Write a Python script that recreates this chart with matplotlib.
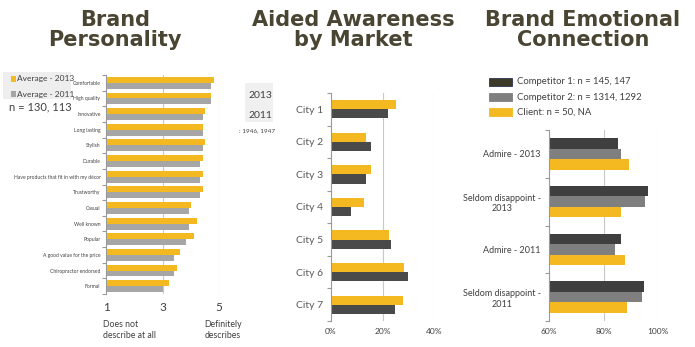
import numpy as np
import matplotlib.pyplot as plt
from matplotlib.patches import Rectangle

plt.rcParams['font.family'] = ['Lato', 'DejaVu Sans']

# Brand personality (1 = does not describe at all, 5 = definitely describes)
traits = ["Comfortable", "High quality", "Innovative", "Long lasting", "Stylish",
          "Durable", "Have products that fit in with my décor", "Trustworthy",
          "Casual", "Well known", "Popular", "A good value for the price",
          "Chiropractor endorsed", "Formal"]
avg_2013 = [4.81, 4.72, 4.50, 4.42, 4.50, 4.42, 4.42, 4.42, 4.00, 4.22, 4.11, 3.62, 3.51, 3.22]
avg_2011 = [4.72, 4.72, 4.42, 4.42, 4.42, 4.33, 4.33, 4.33, 3.93, 3.93, 3.82, 3.41, 3.41, 3.00]

# Aided awareness by market
cities = ["City 1", "City 2", "City 3", "City 4", "City 5", "City 6", "City 7"]
aware_2013 = [0.251, 0.136, 0.156, 0.129, 0.226, 0.282, 0.279]
aware_2011 = [0.223, 0.157, 0.134, 0.079, 0.234, 0.299, 0.249]

# Brand emotional connection
emo_cats = ["Admire - 2013", "Seldom disappoint -\n2013", "Admire - 2011", "Seldom disappoint -\n2011"]
comp1 = [0.855, 0.962, 0.866, 0.947]
comp2 = [0.863, 0.952, 0.841, 0.941]
client = [0.892, 0.863, 0.878, 0.886]

YELLOW = "#f4b920"
LGRAY = "#a6a6a6"
DGRAY = "#4a4a4a"
MGRAY = "#7f7f7f"
TITLE = "#4a4532"
TXT = "#404040"
GRID = "#c8c8c8"

W, H = 695, 347
fig = plt.figure(figsize=(W / 100, H / 100), dpi=100)


def px_axes(x0, y0, x1, y1):
    return fig.add_axes([x0 / W, 1 - y1 / H, (x1 - x0) / W, (y1 - y0) / H])


def style(ax, n, xt):
    for s in ["top", "right", "bottom"]:
        ax.spines[s].set_visible(False)
    ax.spines["left"].set_color("#999999")
    ax.spines["left"].set_linewidth(0.8)
    ax.set_ylim(n - 0.5, -0.5)
    ax.set_xticks(xt)
    for v in xt[1:]:
        ax.axvline(v, color=GRID, lw=0.8, zorder=0)
    ax.set_yticks(np.arange(-0.5, n, 1.0), minor=True)
    ax.tick_params(axis="y", which="minor", length=3, color="#999999", width=0.8)
    ax.tick_params(axis="y", which="major", length=0)
    ax.tick_params(axis="x", length=0, colors=TXT)


def ptext(x, y, s, **kw):
    fig.text(x / W, 1 - y / H, s, **kw)


# titles
for x, t in [(115, "Brand\nPersonality"), (353, "Aided Awareness\nby Market"),
             (583, "Brand Emotional\nConnection")]:
    ptext(x, 30, t, ha="center", va="center", fontsize=15, fontweight="bold",
          color=TITLE, family="DejaVu Sans", linespacing=1.05)

# panel 1
ax1 = px_axes(106, 75, 219, 294)
y = np.arange(len(traits))
h = 0.38
ax1.barh(y - h / 2, [v - 1 for v in avg_2013], height=h, left=1, color=YELLOW)
ax1.barh(y + h / 2, [v - 1 for v in avg_2011], height=h, left=1, color=LGRAY)
ax1.set_xlim(1, 5)
style(ax1, len(traits), [1, 3, 5])
ax1.set_yticks(y)
ax1.set_yticklabels(traits, fontsize=3.6, color=TXT)
ax1.tick_params(axis="y", pad=4)
ax1.set_xticklabels(["1", "3", "5"], fontsize=8.5)
ax1.tick_params(axis="x", pad=6)
ptext(103, 330, "Does not\ndescribe at all", ha="left", va="center", fontsize=6.3, color=TXT)
ptext(223, 330, "Definitely\ndescribes", ha="center", va="center", fontsize=6.3, color=TXT)

fig.patches.append(Rectangle((3 / W, 1 - 99 / H), 68 / W, 27 / H, transform=fig.transFigure,
                             facecolor="#eeeeee", edgecolor="none"))
for yy, c, lab in [(79, YELLOW, "Average - 2013"), (94, LGRAY, "Average - 2011")]:
    fig.patches.append(Rectangle((11 / W, 1 - (yy + 3) / H), 5 / W, 6 / H,
                                 transform=fig.transFigure, facecolor=c, edgecolor="none"))
    ptext(17, yy, lab, ha="left", va="center", fontsize=6.0, color=TXT)
ptext(9, 107, "n = 130, 113", ha="left", va="center", fontsize=8, color=TXT)

# panel 2
ax2 = px_axes(331, 93, 434, 321)
y = np.arange(len(cities))
h = 0.28
ax2.barh(y - h / 2, aware_2013, height=h, color=YELLOW)
ax2.barh(y + h / 2, aware_2011, height=h, color=DGRAY)
ax2.set_xlim(0, 0.4)
style(ax2, len(cities), [0, 0.2, 0.4])
ax2.set_yticks(y)
ax2.set_yticklabels(cities, fontsize=7.5, color="#595959")
ax2.tick_params(axis="y", pad=6)
ax2.set_xticklabels(["0%", "20%", "40%"], fontsize=6)
ax2.tick_params(axis="x", pad=5)

fig.patches.append(Rectangle((245 / W, 1 - 122 / H), 28 / W, 39 / H, transform=fig.transFigure,
                             facecolor="#f0f0f0", edgecolor="none"))
ptext(248, 96, "2013", ha="left", va="center", fontsize=7.5, color=TXT)
ptext(248, 115, "2011", ha="left", va="center", fontsize=7.5, color=TXT)
ptext(239, 131, ": 1946, 1947", ha="left", va="center", fontsize=4.6, color=TXT)

# panel 3
ax3 = px_axes(549, 130, 658, 321)
y = np.arange(len(emo_cats))
h = 0.22
ax3.barh(y - h, [v - 0.6 for v in comp1], height=h, left=0.6, color="#3f3f3f")
ax3.barh(y, [v - 0.6 for v in comp2], height=h, left=0.6, color=MGRAY)
ax3.barh(y + h, [v - 0.6 for v in client], height=h, left=0.6, color=YELLOW)
ax3.set_xlim(0.6, 1.0)
style(ax3, len(emo_cats), [0.6, 0.8, 1.0])
ax3.set_yticks(y)
ax3.set_yticklabels(emo_cats, fontsize=6.5, color=TXT, multialignment="center")
ax3.tick_params(axis="y", pad=6)
ax3.set_xticklabels(["60%", "80%", "100%"], fontsize=6)
ax3.tick_params(axis="x", pad=5)

for yy, c, ec, lab in [(82, "#3d3a2a", "#2a3550", "Competitor 1: n = 145, 147"),
                       (97, MGRAY, MGRAY, "Competitor 2: n = 1314, 1292"),
                       (112, YELLOW, YELLOW, "Client: n = 50, NA")]:
    fig.patches.append(Rectangle((489 / W, 1 - (yy + 4) / H), 23 / W, 8 / H,
                                 transform=fig.transFigure, facecolor=c, edgecolor=ec, lw=0.6))
    ptext(517, yy, lab, ha="left", va="center", fontsize=6.8, color=TXT)

fig.savefig("out.png", dpi=100)
